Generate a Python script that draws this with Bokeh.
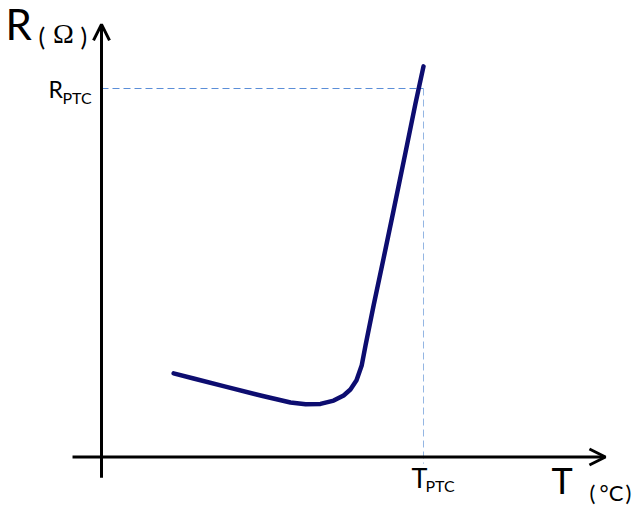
from bokeh.plotting import figure
from bokeh.models import Arrow, OpenHead, Range1d
from bokeh.core.properties import value
from bokeh.embed import file_html
from bokeh.resources import INLINE

# ---- data (arbitrary units: T_PTC = 100, R_PTC = 100) ----
T_PTC = 100.0
R_PTC = 100.0
temp = [22.4, 28.6, 38.5, 49.4, 58.7, 63.4, 68.0, 72.1, 75.2, 77.3,
        79.2, 80.8, 82.0, 84.5, 87.6, 90.7, 94.4, 97.5, 100.0]
resistance = [22.7, 21.3, 19.1, 16.7, 14.8, 14.3, 14.4, 15.3, 16.7, 18.3,
              20.8, 24.8, 30.3, 41.1, 53.9, 66.9, 82.6, 95.9, 106.0]
x_axis_span = [-9.0, 156.5]
y_axis_span = [-5.6, 117.4]

W, H = 635, 506
ORG = 0     # picture offset of the canvas
SX = 3.22   # px per T unit
SY = 3.685  # px per R unit
X0 = -(101 - ORG) / SX
X1 = X0 + W / SX
Y1 = (456.5 - ORG) / SY
Y0 = Y1 - H / SY
K = 0.43    # baseline compensation (fraction of font size)


def px_x(xp):
    return X0 + (xp - ORG) / SX


def px_y(yp):
    return Y1 - (yp - ORG) / SY


p = figure(width=W, height=H, x_range=Range1d(X0, X1), y_range=Range1d(Y0, Y1),
           output_backend="svg", toolbar_location=None, min_border=0,
           x_axis_type=None, y_axis_type=None)
p.grid.visible = False
p.outline_line_color = None
p.background_fill_color = "white"
p.border_fill_color = "white"

# dashed guide lines
p.line([0, T_PTC], [R_PTC, R_PTC], line_color="#5B8ED8", line_width=1, line_dash="7 4")
p.line([T_PTC, T_PTC], [R_PTC, -1.8], line_color="#94B6E3", line_width=1, line_dash="7 4")

# axes with arrows
p.add_layout(Arrow(end=OpenHead(size=16, line_width=3, line_color="black"),
                   x_start=x_axis_span[0], y_start=0, x_end=x_axis_span[1], y_end=0,
                   line_width=3, line_color="black"))
p.add_layout(Arrow(end=OpenHead(size=16, line_width=3, line_color="black"),
                   x_start=0, y_start=y_axis_span[0], x_end=0, y_end=y_axis_span[1],
                   line_width=3, line_color="black"))

# curve
p.line(temp, resistance, line_color="#0D0D70", line_width=4.5, line_join="round", line_cap="round")

# labels: (text, font, size px, page x, page baseline y, align)
labels = [
    ("R", "Lato", 42, 5, 42, "left"),
    ("(", "Lato", 25, 38, 46, "left"),
    ("\u03a9", "Liberation Serif", 28, 63, 45, "center"),
    (")", "Lato", 25, 80, 46, "left"),
    ("R", "Lato", 23, 48, 98, "left"),
    ("PTC", "Lato", 16, 62, 104, "left"),
    ("T", "Lato", 27, 411, 489, "left"),
    ("PTC", "Lato", 16, 425, 492, "left"),
    ("T", "Lato", 36, 551, 495, "left"),
    ("(", "Lato", 22, 589, 501, "left"),
    ("\u00b0C", "Lato", 22, 611, 501, "center"),
    (")", "Lato", 22, 625, 501, "left"),
]
for txt, font, size, xp, yp, align in labels:
    p.text(x=[px_x(xp)], y=[px_y(yp - K * size)], text=[txt], text_font=value(font),
           text_font_size=value(f"{size}px"), text_align=align, text_baseline="alphabetic",
           text_color="black")

open("out.html", "w").write(file_html(p, INLINE))
